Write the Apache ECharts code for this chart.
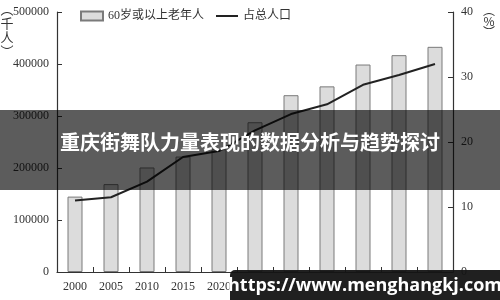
<!DOCTYPE html>
<html>
<head>
<meta charset="utf-8">
<script src="https://cdn.jsdelivr.net/npm/echarts@6/dist/echarts.min.js"></script>
<style>html,body{margin:0;padding:0;background:#fff}#c{width:500px;height:300px}</style>
</head>
<body>
<div id="c"></div>
<script>
const years = ['2000','2005','2010','2015','2020','2025','2030','2035','2040','2045','2050'];
const elderly = [145000, 169000, 201000, 222000, 236000, 288000, 340000, 357000, 399000, 417000, 433000];
const sharePct = [11.0, 11.5, 13.9, 17.7, 18.6, 21.8, 24.3, 25.8, 28.8, 30.3, 32.0];
const leftTicks = {min: 0, max: 500000, interval: 100000};
const rightTicks = {min: 0, max: 40, interval: 10};
const barName = '60岁或以上老年人';
const lineName = '占总人口';
const leftUnit = '︵\n千\n人\n︶';
const rightUnit = '︵\n%\n︶';
const bannerText = '重庆街舞队力量表现的数据分析与趋势探讨';
const watermark = 'https://www.menghangkj.com';

const serif = '"Liberation Serif","Noto Sans CJK SC",serif';
const axisCommon = {
  axisLine: {show: true, lineStyle: {color: '#333', width: 1.2}},
  axisTick: {show: true, inside: true, length: 5, lineStyle: {color: '#333'}},
  splitLine: {show: false},
  axisLabel: {color: '#333', fontFamily: serif, fontSize: 12, formatter: v => String(v)}
};
const chart = echarts.init(document.getElementById('c'), null, {renderer: 'canvas'});
chart.setOption({
  animation: false,
  backgroundColor: '#fff',
  grid: {left: 57, right: 47, top: 12, bottom: 28},
  legend: {
    left: 75, top: 5, itemWidth: 22, itemHeight: 9, itemGap: 12,
    textStyle: {fontFamily: serif, fontSize: 12, color: '#333'},
    data: [
      {name: barName, icon: 'rect'},
      {name: lineName, icon: 'path://M0,0 L22,0 L22,2 L0,2 Z', itemStyle: {color: '#222', borderWidth: 0}}
    ]
  },
  xAxis: Object.assign({}, axisCommon, {
    type: 'category', data: years,
    axisTick: {show: true, inside: true, length: 5, alignWithLabel: false, lineStyle: {color: '#333'}},
    axisLabel: {color: '#333', fontFamily: serif, fontSize: 12, margin: 9}
  }),
  yAxis: [
    Object.assign({}, axisCommon, leftTicks, {type: 'value', position: 'left'}),
    Object.assign({}, axisCommon, rightTicks, {type: 'value', position: 'right'})
  ],
  series: [
    {name: barName, type: 'bar', data: elderly, barWidth: 15,
     itemStyle: {color: '#dcdcdc', borderColor: '#7a7a7a', borderWidth: 1}},
    {name: lineName, type: 'line', yAxisIndex: 1, data: sharePct, symbol: 'none', showSymbol: false,
     lineStyle: {color: '#222', width: 2}, itemStyle: {color: '#222'}}
  ],
  graphic: [
    {type: 'text', x: 7, y: 2, style: {text: leftUnit, fontFamily: '"Noto Sans CJK SC",serif', fontSize: 13, fill: '#333', lineHeight: 14, align: 'center', verticalAlign: 'top'}},
    {type: 'text', x: 489, y: 5, style: {text: rightUnit, fontFamily: '"Noto Sans CJK SC",serif', fontSize: 12, fill: '#333', lineHeight: 11, align: 'center', verticalAlign: 'top'}},
    {type: 'rect', left: 0, top: 110, shape: {width: 500, height: 80}, style: {fill: 'rgba(0,0,0,0.64)'}, z: 100},
    {type: 'text', x: 250, y: 142, style: {text: bannerText, fontFamily: '"Noto Sans CJK SC",sans-serif', fontWeight: 'bold', fontSize: 20, fill: '#fff', align: 'center', verticalAlign: 'middle'}, z: 101},
    {type: 'rect', left: 230, top: 270, shape: {width: 274, height: 34, r: 5}, style: {fill: 'rgba(20,20,20,0.95)'}, z: 100},
    {type: 'text', x: 365, y: 286, style: {text: watermark, fontFamily: '"Open Sans","DejaVu Sans",sans-serif', fontWeight: 'bold', fontSize: 18, fill: '#fff', align: 'center', verticalAlign: 'middle'}, z: 101}
  ]
});
</script>
</body>
</html>
